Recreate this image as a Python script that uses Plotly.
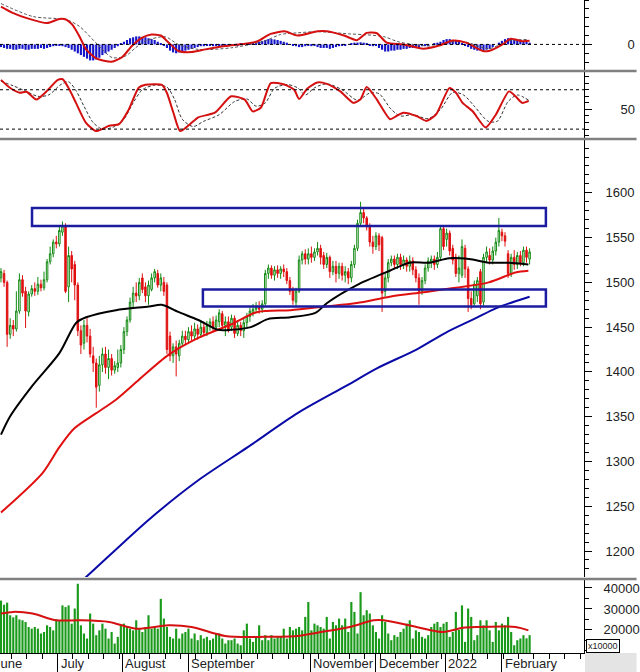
import plotly.graph_objects as go

# ---------------- data (trading sessions, June 2021 - Feb 2022) ----------------
sessions = list(range(173))

opens = [1505,1510,1500,1442,1452,1448,1468,1503,1490,1467,
         1487,1493,1490,1498,1494,1503,1523,1532,1545,1543,
         1556,1562,1495,1530,1520,1497,1446,1432,1452,1440,
         1418,1410,1385,1408,1420,1405,1415,1402,1405,1410,
         1425,1445,1458,1478,1488,1485,1505,1495,1485,1492,
         1505,1510,1497,1500,1497,1440,1418,1428,1418,1432,
         1440,1436,1445,1440,1448,1442,1450,1444,1452,1456,
         1450,1456,1465,1452,1456,1450,1460,1443,1452,1446,
         1455,1462,1466,1470,1472,1470,1476,1510,1516,1508,
         1514,1510,1515,1512,1502,1492,1478,1490,1525,1532,
         1526,1532,1528,1534,1538,1530,1520,1528,1512,1518,
         1510,1518,1508,1512,1505,1520,1538,1566,1578,1572,
         1562,1545,1540,1552,1550,1490,1505,1522,1526,1520,
         1528,1520,1525,1518,1524,1514,1505,1490,1502,1516,
         1522,1526,1520,1528,1560,1548,1555,1538,1528,1510,
         1508,1538,1515,1482,1476,1485,1512,1478,1528,1530,
         1525,1535,1545,1556,1552,1532,1510,1528,1520,1530,1522,1536,1526]

highs = [1516,1514,1502,1460,1458,1490,1510,1508,1495,1490,
         1497,1500,1506,1503,1512,1526,1540,1548,1552,1562,
         1568,1566,1540,1535,1524,1500,1452,1458,1460,1448,
         1428,1415,1418,1427,1428,1425,1420,1412,1425,1430,
         1450,1462,1483,1495,1500,1505,1510,1500,1502,1510,
         1515,1514,1510,1506,1500,1445,1432,1435,1436,1446,
         1446,1450,1452,1455,1453,1458,1456,1457,1460,1462,
         1463,1470,1468,1462,1462,1464,1463,1458,1456,1460,
         1466,1472,1476,1478,1479,1480,1514,1520,1519,1518,
         1519,1518,1520,1516,1506,1495,1494,1530,1535,1537,
         1538,1540,1538,1545,1542,1534,1533,1530,1524,1524,
         1522,1522,1518,1516,1524,1542,1570,1590,1582,1574,
         1566,1552,1556,1555,1552,1510,1526,1530,1530,1532,
         1532,1530,1528,1530,1528,1518,1510,1506,1520,1528,
         1530,1530,1534,1563,1563,1560,1558,1542,1532,1530,
         1548,1542,1518,1490,1502,1506,1515,1532,1540,1538,
         1540,1550,1572,1560,1556,1536,1532,1536,1534,1535,1540,1540,1538]

lows = [1500,1495,1428,1437,1440,1445,1465,1484,1449,1462,
        1484,1485,1486,1490,1491,1500,1520,1528,1538,1540,
        1552,1488,1478,1500,1480,1440,1420,1425,1433,1416,
        1400,1360,1378,1400,1398,1392,1396,1398,1400,1405,
        1420,1440,1455,1472,1478,1480,1488,1478,1475,1490,
        1500,1494,1490,1485,1420,1412,1410,1395,1412,1428,
        1430,1432,1435,1436,1436,1438,1440,1440,1446,1445,
        1446,1450,1448,1440,1444,1446,1438,1440,1440,1438,
        1450,1456,1462,1466,1465,1466,1474,1504,1504,1502,
        1505,1504,1506,1498,1486,1475,1474,1488,1520,1520,
        1520,1522,1524,1530,1520,1515,1516,1505,1508,1500,
        1504,1502,1500,1498,1500,1516,1535,1562,1566,1558,
        1540,1532,1536,1535,1467,1484,1500,1518,1515,1515,
        1514,1515,1512,1512,1508,1500,1475,1486,1498,1512,
        1516,1514,1516,1525,1536,1540,1530,1520,1506,1500,
        1505,1505,1467,1470,1474,1478,1470,1474,1522,1520,
        1520,1530,1540,1546,1540,1505,1506,1514,1515,1518,1518,1522,1520]

closes = [1512,1500,1442,1452,1448,1468,1503,1488,1468,1487,
          1493,1490,1498,1494,1503,1523,1532,1545,1543,1558,
          1563,1490,1530,1515,1497,1446,1430,1452,1440,1420,
          1410,1383,1408,1420,1405,1415,1402,1407,1410,1425,
          1445,1458,1478,1488,1485,1500,1492,1485,1497,1505,
          1512,1497,1505,1490,1425,1418,1428,1420,1432,1440,
          1436,1445,1440,1448,1442,1450,1444,1452,1456,1450,
          1458,1466,1452,1456,1448,1460,1443,1452,1446,1455,
          1462,1468,1470,1472,1470,1476,1510,1516,1508,1514,
          1510,1515,1512,1502,1490,1480,1490,1525,1532,1526,
          1532,1528,1534,1538,1528,1520,1528,1512,1518,1510,
          1518,1508,1512,1505,1520,1538,1566,1578,1572,1562,
          1545,1540,1552,1542,1488,1505,1522,1526,1520,1528,
          1520,1525,1518,1524,1514,1505,1490,1502,1516,1524,
          1526,1520,1528,1560,1540,1555,1535,1525,1510,1516,
          1540,1515,1482,1475,1498,1502,1476,1528,1534,1525,
          1535,1545,1558,1552,1546,1510,1528,1520,1530,1522,1536,1528,1534]

volumes = [34000,32000,33000,27000,26000,27000,25000,24600,23800,21400,
           20600,21400,20600,18300,19000,22200,21400,19800,25000,24600,
           31700,30900,31700,23000,30200,42000,22200,18300,15900,27800,
           23000,17500,19800,23000,20600,15900,19000,13500,16700,22200,
           23000,21400,20600,19800,24600,20600,19000,21400,27000,20600,
           21400,20600,34800,25400,21400,16700,15900,20600,15900,18300,
           19000,20600,15900,18300,15100,17500,15900,16700,15100,15900,
           18300,18300,15900,13500,15100,15100,15900,13500,12700,19800,
           23000,15900,14300,16700,22200,15100,17500,15100,17500,15900,
           16700,16700,20600,15900,21400,19800,20600,21400,19800,26200,
           33300,19800,23000,22200,21400,20600,26200,15900,23800,22200,
           25400,22200,25400,19000,33300,28600,18300,38000,27000,29400,
           27800,22200,19000,15900,27000,23800,18300,15100,17500,16700,
           19000,20600,23000,24600,15900,19800,19000,16700,15900,17500,
           21400,23000,23800,21400,23000,23800,16700,19000,28600,20000,
           31700,14300,30200,26200,15100,17500,24600,22200,24600,19800,
           14300,23800,19800,23000,22200,26200,19000,12700,15100,15900,17500,16000,17500]

# moving averages on price
ma_black_x = [0,2.9,10.3,19,24.5,27.7,37.4,48.1,52.3,57.7,64.2,70.6,74.8,81.3,86.8,94.2,102.3,106.1,115.8,126.5,132.9,139.4,145.8,152.3,158.7,165.2,171.6]
ma_black_y = [1330,1350,1385,1421,1455,1461,1469,1473,1475,1467,1458,1447,1447,1450,1459,1461,1466,1477,1497,1513,1522,1522,1527,1526,1522,1522,1520]
ma_red_x = [0,13.5,19,23.9,31,37.4,44.8,54.5,64.2,74.8,83.5,94.2,105.2,115.8,126.5,137.4,148,158.7,167.4,171.6]
ma_red_y = [1243,1287,1316,1337,1354,1369,1391,1419,1438,1453,1467,1469,1473,1477,1484,1489,1494,1500,1511,1513]
ma_blue_x = [22.3,27.7,48.1,64.2,80.3,96.5,112.6,122.3,135.2,144.8,154.5,161,167.4,172]
ma_blue_y = [1155,1171,1235,1279,1316,1354,1385,1404,1425,1444,1460,1471,1479,1484]

# price zones: (start session, end session, low, high)
zones = [(10.1, 177.3, 1563, 1583), (65.7, 177.3, 1473, 1492)]

# MACD
macd_x = [0,4,8.4,15,19,21.3,23.2,25.5,27.7,31,36,39.4,42.6,45.8,49,52,54.5,57.7,62,66.5,73,79.4,83.5,87.7,92.3,96.5,103,106,111.6,115.8,119,122.3,125.5,131,137.4,142.6,147,151.3,156.8,158.7,163.2,165.8,169.7,172]
macd_y = [21.3,17.6,14.8,12,14.3,13.9,11.1,4.6,-2.8,-7.9,-9.8,-7.2,-0.9,3.7,5.6,5,1.1,-3.7,-4.3,-2.8,-0.9,0.4,1.8,5.9,7.4,5,7.4,7.4,5,2.4,6.5,6.3,1,0,-2.4,-0.6,2.2,1,-3.7,-3.7,0,3.2,1.8,2]
signal_x = [0,10.4,21.2,25.5,30.9,36.2,40.5,43.8,47,53.4,57.7,64.2,75,85.7,91,96.5,103,113.5,119,124.5,129.7,140.6,145.8,151.3,158.7,165,171.6]
signal_y = [23,15.7,13.9,10.2,0.9,-7.4,-6.5,-1.9,1.9,4.3,0,-2.8,-1.9,1.9,5.6,6.5,7.2,5.9,5.4,4.4,1.3,-0.9,1.3,1.3,-2.4,1.9,2.8]
macd_hist = [-1.5,-2,-2.5,-2.5,-3,-3,-2.5,-2.5,-3,-3,-2.5,-2.5,-2.5,-2,-2.5,-2,-1.5,-1,
             -0.5,-0.5,-1,-1.5,
             -2,-3,-4,-5,
             -6,-7,-8,-9,-9,-8.5,-7.5,
             -6,-5,-4,-3,-2,-1,
             0.5,1.5,2.5,3.5,4,4.5,4.5,4,4,3.5,3,2.5,
             1.5,0.5,-0.5,
             -2,-3.5,-4.5,-5,-4.5,-4,-3.5,-3,
             -2.5,-2,-1.5,-1,-1,
             -0.8,-0.8,-1,-0.8,-0.6,-0.8,-1,-0.8,
             -0.8,-0.6,-0.4,0.3,0.6,0.8,1,1.2,1,
             1.5,2,2.5,3,3,2.8,2.5,2,1.5,1,
             0,-0.5,-1,-1.5,-1.5,-1,-0.8,-1,-0.8,
             -1.5,-2,-2,-2,-2.5,-2,-1.5,-1,-0.5,-0.5,0,0.5,1,1,
             1.2,1,0.5,-0.5,-1,-0.5,
             -2,-3,-4,-4,-3.5,-3.5,-3,-3,-2.5,-2.5,-2,-2,
             -1.5,-1.5,-1,-1,-0.5,0,0.5,1,
             1.5,2.5,3,3,2.5,2,1.5,
             0.5,-0.5,-1.5,-2.5,-3,-3.5,-3.5,-3.5,-3,-2.5,-1.5,
             0,1,2,3,3.5,3,3,2.5,2,2,1.5,1]

# Stochastic
stoch_k_x = [0,2.9,6.1,8.3,11.5,14.7,18.5,20.1,22.3,24.4,27.6,30.9,35.2,38.4,41.6,44.8,47,52.4,54,56.1,58.3,61.5,64.2,69.6,74.9,79.3,81.9,84.6,87.8,92.2,95.4,97,99.7,102.9,106,110.4,114.7,116.9,119,122.3,126.6,128.7,130.9,135.2,138.4,141.6,145.9,148.1,150.2,153.4,157.7,161,165.3,167.4,169.6,171.7]
stoch_k_y = [95,83,75.5,77,65,77,95,96,80,60,30,17,25,27.5,50,83,87.5,87.5,75,45,17,27.5,38,45,70,65,47,53,90,88,80,66,82,91,89,77.5,60,65,84,65,35,40,45,40,32.5,42.5,82.5,75,60,47.5,22.5,42,77.5,70,60,63]
stoch_d_x = [0,4,8,12,15.5,19.5,22,24.5,27,30,33,37,40,43,46,50,54,56.5,59,62.5,66,71,76,80,83,86,89,93,96.5,99,102,106,111,116,120,123,127,130,134,139,143,147,150.5,154,158.5,161.5,165,168,171.7]
stoch_d_y = [93,86,78,70,72,88,92,78,55,30,20,24,35,60,80,87,84,65,35,24,32,42,62,66,55,60,82,88,83,72,83,89,80,64,75,74,50,40,42,36,50,76,72,55,32,32,62,72,64]

# volume moving average
vol_ma_x = [0,3.9,10.3,18,25.5,35.2,43.9,54.5,62,72.9,85.8,96.5,102.9,113.5,121.3,124.5,135.2,143.9,150.3,154.5,167.4,171.6]
vol_ma_y = [27800,28600,27800,24600,24600,23800,20600,22200,21400,17100,16700,17100,18700,21400,24600,24600,21400,19000,21000,21400,21400,19800]

# x axis months
month_ticks = [18.4, 39.4, 61, 100.6, 122, 144.5, 163]
month_label_pos = [-3.3, 18.4, 39.4, 61, 100.6, 122, 144.5, 163]
month_labels = ["June", "July", "August", "September", "November", "December", "2022", "February"]

macd_ticks = [0]
stoch_ticks = [50]
stoch_levels = [80, 20]
price_ticks = [1200, 1250, 1300, 1350, 1400, 1450, 1500, 1550, 1600]
volume_ticks = [20000, 30000, 40000]

# ---------------- figure ----------------
GREEN = "#118a11"
RED = "#e01010"
BLUE = "#0a0aa8"
FONT = "Liberation Sans, Arial, sans-serif"
XMIN, XMAX = -0.32, 189.7

fig = go.Figure()

# MACD panel
fig.add_trace(go.Bar(x=sessions, y=macd_hist, marker=dict(color="#1414c8", line=dict(width=0)),
                     xaxis="x", yaxis="y"))
fig.add_trace(go.Scatter(x=signal_x, y=signal_y, mode="lines",
                         line=dict(color="#555555", width=1, dash="3px,2px", shape="spline", smoothing=0.8),
                         xaxis="x", yaxis="y"))
fig.add_trace(go.Scatter(x=macd_x, y=macd_y, mode="lines",
                         line=dict(color="#d41010", width=2, shape="spline", smoothing=0.6),
                         xaxis="x", yaxis="y"))

# Stochastic panel
fig.add_trace(go.Scatter(x=stoch_d_x, y=stoch_d_y, mode="lines",
                         line=dict(color="#333333", width=1, dash="3px,2px", shape="spline", smoothing=0.8),
                         xaxis="x", yaxis="y2"))
fig.add_trace(go.Scatter(x=stoch_k_x, y=stoch_k_y, mode="lines",
                         line=dict(color="#d41010", width=2, shape="spline", smoothing=0.6),
                         xaxis="x", yaxis="y2"))

# Price panel
fig.add_trace(go.Candlestick(x=sessions, open=opens, high=highs, low=lows, close=closes,
                             increasing=dict(line=dict(color=GREEN, width=1), fillcolor="white"),
                             decreasing=dict(line=dict(color=RED, width=1), fillcolor=RED),
                             whiskerwidth=0, xaxis="x", yaxis="y3"))
fig.add_trace(go.Scatter(x=ma_blue_x, y=ma_blue_y, mode="lines",
                         line=dict(color=BLUE, width=2, shape="spline", smoothing=0.8),
                         xaxis="x", yaxis="y3"))
fig.add_trace(go.Scatter(x=ma_red_x, y=ma_red_y, mode="lines",
                         line=dict(color=RED, width=2, shape="spline", smoothing=0.8),
                         xaxis="x", yaxis="y3"))
fig.add_trace(go.Scatter(x=ma_black_x, y=ma_black_y, mode="lines",
                         line=dict(color="black", width=2, shape="spline", smoothing=0.8),
                         xaxis="x", yaxis="y3"))

# Volume panel
fig.add_trace(go.Bar(x=sessions, y=volumes, marker=dict(color="#1a9a1a", line=dict(width=0)),
                     xaxis="x", yaxis="y4"))
fig.add_trace(go.Scatter(x=vol_ma_x, y=vol_ma_y, mode="lines",
                         line=dict(color="#d41010", width=2, shape="spline", smoothing=0.8),
                         xaxis="x", yaxis="y4"))

shapes = []
for (x0, x1, lo, hi) in zones:
    shapes.append(dict(type="rect", xref="x", yref="y3", x0=x0, x1=x1, y0=lo, y1=hi,
                       line=dict(color="#1c1ca0", width=2.5), fillcolor="rgba(0,0,0,0)", layer="above"))
shapes.append(dict(type="line", xref="paper", yref="y", x0=0, x1=1, y0=0, y1=0,
                   line=dict(color="black", width=1, dash="3px,3px")))
for lv in stoch_levels:
    shapes.append(dict(type="line", xref="paper", yref="y2", x0=0, x1=1, y0=lv, y1=lv,
                       line=dict(color="black", width=1, dash="3px,3px")))
# panel separators
for yp in [0.8913, 0.7871, 0.1133]:
    shapes.append(dict(type="line", xref="paper", yref="paper", x0=0, x1=1.09, y0=yp, y1=yp,
                       line=dict(color="#808080", width=2.5)))
# grey corner bottom-right
shapes.append(dict(type="rect", xref="paper", yref="paper", x0=1.0017, x1=1.09, y0=-0.03, y1=0,
                   line=dict(width=0), fillcolor="#e4e4e4", layer="below"))

annotations = []
span = XMAX - XMIN
for pos, lab in zip(month_label_pos, month_labels):
    annotations.append(dict(x=(pos - XMIN) / span, y=0, xref="paper", yref="paper",
                            xanchor="left", yanchor="top", xshift=1, yshift=-1, showarrow=False,
                            text=lab, font=dict(family=FONT, size=13, color="#222")))
annotations.append(dict(x=1.0323, y=0.0107, xref="paper", yref="paper", showarrow=False,
                        xanchor="center", yanchor="middle",
                        text="x10000", font=dict(family=FONT, size=9, color="#222"),
                        bordercolor="black", borderwidth=1, borderpad=1, bgcolor="white"))

def yax(domain, rng, tickvals, minor_dtick, standoff):
    return dict(domain=domain, range=rng, side="right", anchor="x", showline=True,
                linecolor="black", linewidth=1, ticks="outside", tickcolor="black", ticklen=7,
                tickvals=tickvals, tickformat="d", showgrid=False, zeroline=False, fixedrange=True,
                ticklabelstandoff=standoff,
                tickfont=dict(family=FONT, size=13, color="#222"),
                minor=dict(dtick=minor_dtick, ticks="outside", ticklen=4, tickcolor="black",
                           showgrid=False))

fig.update_layout(
    width=640, height=672,
    margin=dict(l=0, r=51, t=0, b=19),
    paper_bgcolor="white", plot_bgcolor="white",
    showlegend=False, bargap=0.3,
    xaxis=dict(domain=[0, 1], range=[XMIN, XMAX], anchor="y4", showline=True, linecolor="black",
               ticks="outside", tickvals=month_ticks, ticklen=18, tickcolor="black",
               showticklabels=False, showgrid=False, zeroline=False, fixedrange=True,
               rangeslider=dict(visible=False),
               minor=dict(dtick=5, tick0=18.4, ticks="outside", ticklen=5, tickcolor="black")),
    yaxis=yax([0.8928, 1], [-14.4, 25], macd_ticks, 5, 33),
    yaxis2=yax([0.7887, 0.8897], [6.5, 107], stoch_ticks, 10, 26),
    yaxis3=yax([0.1164, 0.7856], [1171, 1659], price_ticks, 10, 11),
    yaxis4=yax([0, 0.1118], [9000, 43800], volume_ticks, 5000, 9),
    shapes=shapes, annotations=annotations,
)

fig.write_html("out.html", config={"displayModeBar": False},
               post_script="document.body.style.margin='0px';document.body.style.overflow='hidden';")
